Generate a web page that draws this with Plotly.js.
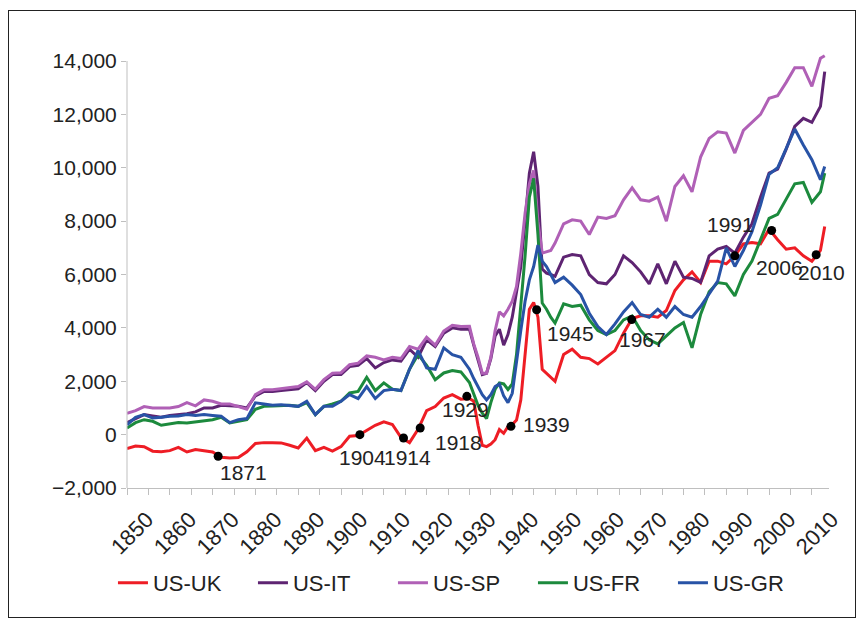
<!DOCTYPE html>
<html>
<head>
<meta charset="utf-8">
<script src="https://cdn.plot.ly/plotly-3.0.1.min.js"></script>
<style>
  html, body { margin: 0; padding: 0; background: #fff; }
  #wrap { position: relative; width: 861px; height: 622px; }
  #chart { position: absolute; left: 0; top: 0; width: 861px; height: 622px; }
  #frame { position: absolute; left: 8px; top: 10px; width: 846px; height: 606px; border: 1px solid #222; pointer-events: none; }
</style>
</head>
<body>
<div id="wrap"><div id="chart"></div><div id="frame"></div></div>
<script>
// ---- data ----
const years = [
  1850,1852,1854,1856,1858,1860,1862,1864,1866,1868,
  1870,1872,1874,1876,1878,1880,1882,1884,1886,1888,
  1890,1892,1894,1896,1898,1900,1902,1904,1906,1908,
  1910,1912,1914,1916,1918,1920,1922,1924,1926,1928,
  1930,
  1931,1932,1933,1934,1935,1936,1937,1938,1939,1940,
  1941,1942,1943,1944,1945,1946,1947,1948,1949,
  1950,1952,1954,1956,1958,1960,1962,1964,1966,1968,
  1970,1972,1974,1976,1978,1980,1982,1984,1986,1988,
  1990,1992,1994,1996,1998,2000,2002,2004,2006,2008,
  2010,2012,2013
];

const usUK = [
  -520,-430,-450,-620,-640,-600,-480,-650,-560,-600,
  -650,-850,-880,-860,-640,-330,-300,-300,-310,-400,
  -500,-130,-600,-480,-620,-450,-60,-30,150,350,
  480,380,-100,-300,200,900,1050,1370,1500,1330,
  1350,
  1250,350,-400,-450,-350,-190,190,50,300,380,
  550,1300,3000,4700,4950,4400,2450,2300,2150,
  2000,3000,3200,2900,2850,2650,2900,3150,3800,4350,
  4450,4450,4400,4650,5400,5800,6100,5700,6500,6500,
  6400,6700,7150,7200,7150,7700,7300,6950,7000,6700,
  6500,6900,7800
];

const usIT = [
  450,600,750,700,650,720,750,780,850,1000,
  1000,1100,1080,1060,1000,1450,1620,1620,1650,1680,
  1720,1950,1650,2000,2250,2250,2550,2600,2850,2500,
  2700,2800,2750,3200,2900,3550,3300,3800,4000,3950,
  3950,
  3350,2800,2250,2300,2850,3700,3950,3350,3750,4400,
  5300,6300,8000,9800,10600,9300,6200,6050,6000,
  5930,6650,6750,6700,6000,5700,5650,6000,6700,6450,
  6100,5650,6400,5650,6500,5900,5850,5700,6700,6950,
  7050,6800,7400,7900,8900,9800,9950,10700,11550,11850,
  11700,12300,13600
];

const usSP = [
  800,900,1050,1000,1000,1000,1050,1200,1080,1300,
  1250,1150,1150,1060,950,1500,1680,1680,1720,1750,
  1800,1980,1700,2060,2300,2320,2620,2680,2950,2900,
  2800,2900,2850,3300,3200,3650,3350,3880,4100,4050,
  4060,
  3400,2900,2300,2300,2900,3900,4600,4450,4700,5000,
  5550,6800,8300,9400,9900,8000,6800,6850,6900,
  7180,7900,8050,8000,7500,8150,8100,8200,8800,9250,
  8800,8750,8900,8000,9300,9700,9100,10400,11100,11350,
  11300,10550,11400,11700,12000,12600,12700,13200,13750,13750,
  13050,14100,14200
];

const usFR = [
  250,450,560,500,350,400,450,440,480,520,
  560,650,440,500,560,950,1060,1070,1080,1100,
  1060,1200,750,1060,1150,1250,1560,1620,2150,1650,
  1940,1700,1650,2450,3000,2600,2060,2310,2400,2350,
  1950,
  1500,1100,800,600,1200,1700,1940,1900,1690,1900,
  3000,4800,6700,8900,9600,7500,4930,4700,4400,
  4180,4900,4800,4850,4300,3900,3750,3900,4300,4450,
  3900,3550,3400,3700,4000,4200,3250,4500,5350,5700,
  5650,5200,6000,6500,7300,8100,8250,8800,9400,9450,
  8700,9100,9800
];

const usGR = [
  370,650,750,620,650,690,700,750,720,750,
  720,690,450,560,600,1190,1150,1100,1120,1080,
  1060,1250,750,1060,1060,1250,1500,1350,1800,1350,
  1650,1700,1650,2450,3150,2500,2450,3250,3000,2900,
  2450,
  2100,1800,1500,1300,1500,1800,1900,1450,1200,1550,
  2800,3900,5000,5800,6300,7100,6500,6300,6000,
  5700,5900,5600,5250,4550,4050,3750,4150,4600,4950,
  4500,4400,4700,4400,4800,4500,4400,4800,5300,5750,
  7000,6300,6900,7600,8600,9750,10000,10700,11450,10850,
  10300,9550,10050
];

const seriesNames = ['US-UK', 'US-IT', 'US-SP', 'US-FR', 'US-GR'];
const seriesValues = [usUK, usIT, usSP, usFR, usGR];

// highlighted years on the US-UK line
const eventLabels = ['1871','1904','1914','1918','1929','1939','1945','1967','1991','2006','2010'];
const eventX      = [1871.3, 1904.4, 1914.6, 1918.5, 1929.4, 1939.7, 1945.7, 1967.9, 1992, 2000.6, 2011];
const eventY      = [-810, 0, -125, 250, 1435, 310, 4680, 4310, 6700, 7650, 6740];

// ---- styles ----
const colors = ['#ee1d25', '#5e2472', '#b060b6', '#1c8a3d', '#2853a6'];
// label offsets (px) relative to each dot: [xshift, yshift]
const labelShift = [[25,-16],[3,-23],[4,-20],[38,-15],[-1,-13],[36,2],[34,-24],[11,-20],[-4,31],[8,-37],[5,-18]];
const font = 'Liberation Sans, Arial, sans-serif';

const traces = seriesNames.map((name, i) => ({
  type: 'scatter', mode: 'lines', name: name,
  x: years, y: seriesValues[i],
  line: { color: colors[i], width: 3 }
}));

traces.push({
  type: 'scatter', mode: 'markers', showlegend: false, hoverinfo: 'skip',
  x: eventX, y: eventY,
  marker: { color: '#000', size: 9 }
});

const annotations = eventLabels.map((t, i) => ({
  x: eventX[i], y: eventY[i], xref: 'x', yref: 'y',
  text: t, showarrow: false,
  xanchor: 'center', yanchor: 'middle',
  xshift: labelShift[i][0], yshift: labelShift[i][1],
  font: { family: font, size: 21, color: '#222' }
}));

const layout = {
  width: 861, height: 622, autosize: false,
  margin: { l: 127, r: 32, t: 53, b: 134, pad: 0 },
  paper_bgcolor: '#fff', plot_bgcolor: '#fff',
  font: { family: font, size: 21, color: '#222' },
  showlegend: true,
  legend: {
    orientation: 'h', x: -0.02, xanchor: 'left', y: -0.218, yanchor: 'middle',
    font: { family: font, size: 22, color: '#222' },
    entrywidth: 95, entrywidthmode: 'pixels', itemwidth: 30,
    bgcolor: 'rgba(0,0,0,0)', borderwidth: 0
  },
  xaxis: {
    type: 'linear', range: [1850, 2014], tick0: 1850, dtick: 10,
    ticks: 'outside', ticklen: 6, tickcolor: '#bfbfbf', tickwidth: 1,
    minor: { dtick: 5, tick0: 1850, ticks: 'outside', ticklen: 6, tickcolor: '#bfbfbf', tickwidth: 1, showgrid: false },
    showline: true, linecolor: '#bfbfbf', linewidth: 1,
    showgrid: false, zeroline: false,
    tickangle: -45, ticklabelshift: 20, ticklabelstandoff: 3,
    tickfont: { family: font, size: 22, color: '#222' }
  },
  yaxis: {
    range: [-2000, 14300], tick0: 0, dtick: 2000, tickformat: ',d',
    ticks: 'outside', ticklen: 5, tickcolor: '#bfbfbf', tickwidth: 1,
    showline: false, showgrid: false, zeroline: false,
    tickfont: { family: font, size: 21, color: '#222' }
  },
  shapes: [{
    type: 'line', xref: 'paper', yref: 'y', x0: 0, x1: 0, y0: -2000, y1: 14000,
    line: { color: '#bfbfbf', width: 1 }
  }],
  annotations: annotations
};

Plotly.newPlot('chart', traces, layout, { displayModeBar: false, staticPlot: true });
</script>
</body>
</html>
